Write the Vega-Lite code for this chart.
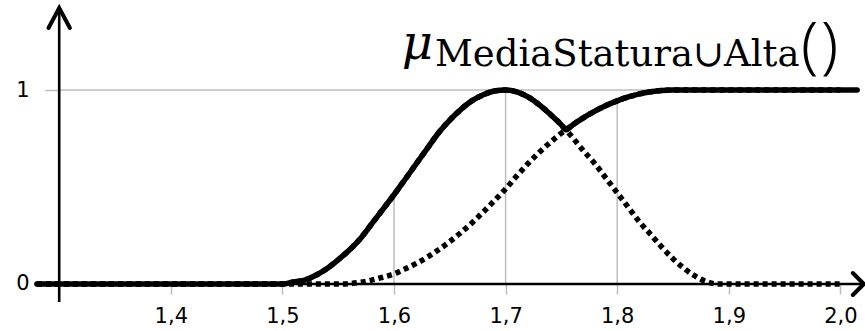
{
  "$schema": "https://vega.github.io/schema/vega-lite/v6.json",
  "width": 865,
  "height": 331,
  "autosize": "none",
  "padding": 0,
  "background": "white",
  "config": {"view": {"stroke": null}},
  "datasets": {
    "curves": [
      {"x": 1.28, "media": 0, "alta": 0, "union": 0},
      {"x": 1.3, "media": 0, "alta": 0, "union": 0},
      {"x": 1.4, "media": 0, "alta": 0, "union": 0},
      {"x": 1.5, "media": 0, "alta": 0, "union": 0},
      {"x": 1.51, "media": 0.01, "alta": 0, "union": 0.01},
      {"x": 1.52, "media": 0.02, "alta": 0, "union": 0.02},
      {"x": 1.53, "media": 0.045, "alta": 0, "union": 0.045},
      {"x": 1.54, "media": 0.08, "alta": 0, "union": 0.08},
      {"x": 1.55, "media": 0.125, "alta": 0, "union": 0.125},
      {"x": 1.56, "media": 0.175, "alta": 0.002, "union": 0.175},
      {"x": 1.57, "media": 0.235, "alta": 0.009, "union": 0.235},
      {"x": 1.58, "media": 0.31, "alta": 0.02, "union": 0.31},
      {"x": 1.59, "media": 0.385, "alta": 0.035, "union": 0.385},
      {"x": 1.6, "media": 0.46, "alta": 0.052, "union": 0.46},
      {"x": 1.61, "media": 0.54, "alta": 0.078, "union": 0.54},
      {"x": 1.62, "media": 0.62, "alta": 0.106, "union": 0.62},
      {"x": 1.63, "media": 0.7, "alta": 0.139, "union": 0.7},
      {"x": 1.64, "media": 0.78, "alta": 0.177, "union": 0.78},
      {"x": 1.65, "media": 0.845, "alta": 0.219, "union": 0.845},
      {"x": 1.66, "media": 0.9, "alta": 0.265, "union": 0.9},
      {"x": 1.67, "media": 0.945, "alta": 0.316, "union": 0.945},
      {"x": 1.68, "media": 0.975, "alta": 0.371, "union": 0.975},
      {"x": 1.69, "media": 0.995, "alta": 0.43, "union": 0.995},
      {"x": 1.7, "media": 1, "alta": 0.49, "union": 1},
      {"x": 1.71, "media": 0.99, "alta": 0.557, "union": 0.99},
      {"x": 1.72, "media": 0.965, "alta": 0.62, "union": 0.965},
      {"x": 1.73, "media": 0.925, "alta": 0.678, "union": 0.925},
      {"x": 1.74, "media": 0.875, "alta": 0.73, "union": 0.875},
      {"x": 1.75, "media": 0.82, "alta": 0.778, "union": 0.82},
      {"x": 1.754, "media": 0.795, "alta": 0.795, "union": 0.795},
      {"x": 1.76, "media": 0.755, "alta": 0.82, "union": 0.82},
      {"x": 1.77, "media": 0.685, "alta": 0.858, "union": 0.858},
      {"x": 1.78, "media": 0.62, "alta": 0.891, "union": 0.891},
      {"x": 1.79, "media": 0.545, "alta": 0.92, "union": 0.92},
      {"x": 1.8, "media": 0.47, "alta": 0.944, "union": 0.944},
      {"x": 1.81, "media": 0.395, "alta": 0.964, "union": 0.964},
      {"x": 1.82, "media": 0.32, "alta": 0.98, "union": 0.98},
      {"x": 1.83, "media": 0.255, "alta": 0.991, "union": 0.991},
      {"x": 1.84, "media": 0.19, "alta": 0.998, "union": 0.998},
      {"x": 1.85, "media": 0.13, "alta": 1, "union": 1},
      {"x": 1.86, "media": 0.08, "alta": 1, "union": 1},
      {"x": 1.87, "media": 0.04, "alta": 1, "union": 1},
      {"x": 1.88, "media": 0.012, "alta": 1, "union": 1},
      {"x": 1.89, "media": 0, "alta": 1, "union": 1},
      {"x": 1.9, "media": 0, "alta": 1, "union": 1},
      {"x": 1.95, "media": 0, "alta": 1, "union": 1},
      {"x": 2.0, "media": 0, "alta": 1, "union": 1},
      {"x": 2.015, "media": null, "alta": null, "union": 1}
    ]
  },
  "encoding": {
    "x": {
      "type": "quantitative",
      "title": null,
      "scale": {"domain": [1.24695, 2.02204], "nice": false, "zero": false},
      "axis": {
        "title": null, "orient": "bottom", "offset": -47, "domain": false, "grid": false,
        "values": [1.4, 1.5, 1.6, 1.7, 1.8, 1.9, 2.0],
        "labelExpr": "replace(format(datum.value, '.1f'), '.', ',')",
        "tickColor": "#bdbdbd", "tickSize": 10, "tickWidth": 1.5,
        "labelFont": "DejaVu Sans", "labelFontSize": 21, "labelColor": "black",
        "labelPadding": 11, "labelFlush": false, "labelOverlap": false
      }
    },
    "y": {
      "type": "quantitative",
      "title": null,
      "scale": {"domain": [-0.24227, 1.46392], "nice": false, "zero": false},
      "axis": {
        "title": null, "orient": "left", "offset": -60, "domain": false, "grid": false,
        "values": [0, 1], "format": "d",
        "tickColor": "#bdbdbd", "tickSize": 15, "tickWidth": 1.5,
        "labelFont": "DejaVu Sans", "labelFontSize": 21, "labelColor": "black",
        "labelPadding": 16, "labelFlush": false, "labelOverlap": false
      }
    }
  },
  "layer": [
    {
      "data": {"values": [{"x": 1.3, "x2": 2.015, "y": 1}]},
      "mark": {"type": "rule", "color": "#bdbdbd", "strokeWidth": 1.5},
      "encoding": {
        "x": {"field": "x"},
        "x2": {"field": "x2"},
        "y": {"field": "y"}
      }
    },
    {
      "data": {"values": [
        {"x": 1.6, "y": 0, "y2": 0.46},
        {"x": 1.7, "y": 0, "y2": 1},
        {"x": 1.8, "y": 0, "y2": 0.944}
      ]},
      "mark": {"type": "rule", "color": "#bdbdbd", "strokeWidth": 1.5},
      "encoding": {
        "x": {"field": "x"},
        "y": {"field": "y"},
        "y2": {"field": "y2"}
      }
    },
    {
      "data": {"values": [
        {"x": 1.28, "x2": 2.02, "y": 0, "y2": 0},
        {"x": 1.3, "x2": 1.3, "y": -0.093, "y2": 1.42}
      ]},
      "mark": {"type": "rule", "color": "black", "strokeWidth": 2.6},
      "encoding": {
        "x": {"field": "x"},
        "x2": {"field": "x2"},
        "y": {"field": "y"},
        "y2": {"field": "y2"}
      }
    },
    {
      "data": {"values": [{"x": 1.3, "y": 1.4227}]},
      "mark": {"type": "point", "shape": "M-0.535,1L0,0L0.535,1", "size": 1600, "filled": false, "stroke": "black", "strokeWidth": 4, "strokeCap": "round", "strokeJoin": "miter", "opacity": 1},
      "encoding": {
        "x": {"field": "x"},
        "y": {"field": "y"}
      }
    },
    {
      "data": {"values": [{"x": 2.021, "y": 0}]},
      "mark": {"type": "point", "shape": "M-1,-1L0,0L-1,1", "size": 484, "filled": false, "stroke": "black", "strokeWidth": 4, "strokeCap": "round", "strokeJoin": "miter", "opacity": 1},
      "encoding": {
        "x": {"field": "x"},
        "y": {"field": "y"}
      }
    },
    {
      "data": {"name": "curves"},
      "mark": {"type": "line", "color": "black", "strokeWidth": 5.5, "interpolate": "monotone", "strokeCap": "round"},
      "encoding": {
        "x": {"field": "x"},
        "y": {"field": "union"}
      }
    },
    {
      "data": {"name": "curves"},
      "mark": {"type": "line", "color": "black", "strokeWidth": 5.5, "strokeDash": [5, 4], "interpolate": "monotone"},
      "encoding": {
        "x": {"field": "x"},
        "y": {"field": "media"}
      }
    },
    {
      "data": {"name": "curves"},
      "mark": {"type": "line", "color": "black", "strokeWidth": 5.5, "strokeDash": [5, 4], "interpolate": "monotone"},
      "encoding": {
        "x": {"field": "x"},
        "y": {"field": "alta"}
      }
    },
    {
      "data": {"values": [{"t": "μ", "x": 1.607, "y": 1.16}]},
      "mark": {"type": "text", "font": "DejaVu Serif", "fontStyle": "italic", "fontSize": 48, "align": "left", "baseline": "alphabetic", "color": "black"},
      "encoding": {
        "text": {"field": "t"},
        "x": {"field": "x"},
        "y": {"field": "y"}
      }
    },
    {
      "data": {"values": [{"t": "MediaStatura∪Alta", "x": 1.6367, "y": 1.124}]},
      "mark": {"type": "text", "font": "DejaVu Serif", "fontSize": 37, "align": "left", "baseline": "alphabetic", "color": "black"},
      "encoding": {
        "text": {"field": "t"},
        "x": {"field": "x"},
        "y": {"field": "y"}
      }
    },
    {
      "data": {"values": [{"t": "(", "x": 1.9724, "y": 1.119}, {"t": ")", "x": 1.9903, "y": 1.119}]},
      "mark": {"type": "text", "font": "Noto Sans", "fontWeight": 300, "fontSize": 62, "align": "center", "baseline": "alphabetic", "color": "black"},
      "encoding": {
        "text": {"field": "t"},
        "x": {"field": "x"},
        "y": {"field": "y"}
      }
    }
  ]
}
